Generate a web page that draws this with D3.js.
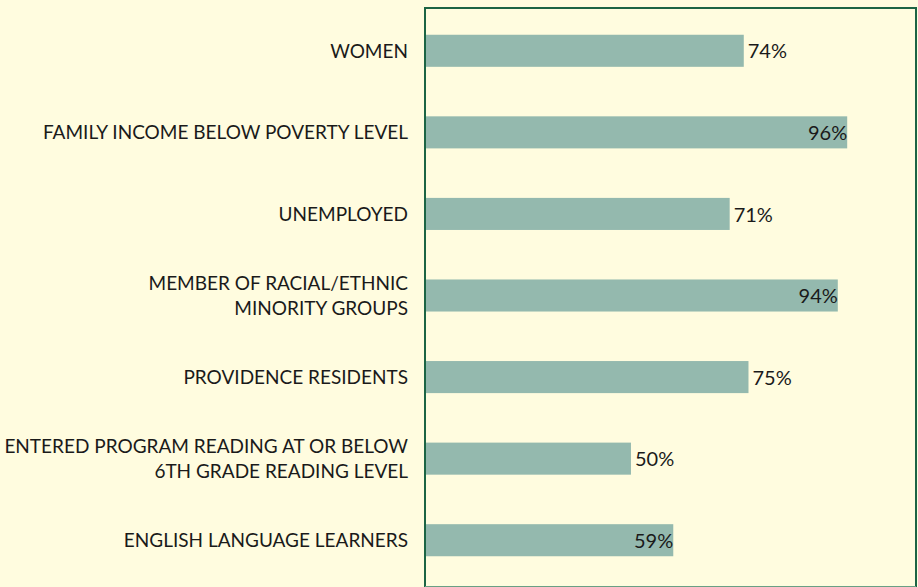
<!DOCTYPE html>
<html>
<head>
<meta charset="utf-8">
<script src="https://cdn.jsdelivr.net/npm/d3@7"></script>
<style>
  html, body { margin: 0; padding: 0; background: #fffcdf; }
  svg { display: block; }
  .cat-label, .val-label { font-family: Lato, "Open Sans", sans-serif; fill: #1a1a1a; }
</style>
</head>
<body>
<svg id="chart"></svg>
<script>
// chart data, top to bottom
const categories = [
  ["WOMEN"],
  ["FAMILY INCOME BELOW POVERTY LEVEL"],
  ["UNEMPLOYED"],
  ["MEMBER OF RACIAL/ETHNIC", "MINORITY GROUPS"],
  ["PROVIDENCE RESIDENTS"],
  ["ENTERED PROGRAM READING AT OR BELOW", "6TH GRADE READING LEVEL"],
  ["ENGLISH LANGUAGE LEARNERS"]
]
const percents = [74, 96, 71, 94, 75, 50, 59]
// these ones have their % written inside the bar in the original
const insideLabels = [96, 94, 59]

const width = 918
const height = 587
const plot = {left: 425, top: 8, right: 916, bottom: 587}

const svg = d3.select('#chart')
  .attr('width', width)
  .attr('height', height)

svg.append('rect')
  .attr('width', width)
  .attr('height', height)
  .attr('fill', '#fffcdf')

const keys = categories.map(d => d.join(' '))

// bars don't start at zero in the original, axis sits a bit above it
const xScale = d3.scaleLinear()
  .domain([6.4, 100])
  .range([plot.left + 1, plot.left + 441])

const yScale = d3.scaleBand()
  .domain(keys)
  .range([10, 581])
  .paddingInner(0.607)
  .paddingOuter(0.3035)

const rows = categories.map((lines, i) => ({key: keys[i], lines: lines, value: percents[i]}))

// bars
svg.selectAll('.bar')
  .data(rows)
  .join('rect')
    .attr('class', 'bar')
    .attr('x', xScale(6.4))
    .attr('y', d => yScale(d.key))
    .attr('width', d => xScale(d.value) - xScale(6.4))
    .attr('height', yScale.bandwidth())
    .attr('fill', '#94b9ae')

// category labels on the left
const lineGap = 25
svg.selectAll('.cat-label')
  .data(rows)
  .join('text')
    .attr('class', 'cat-label')
    .attr('text-anchor', 'end')
    .attr('font-size', 19)
    .attr('x', 408)
    .attr('y', d => yScale(d.key) + yScale.bandwidth() / 2)
    .each(function(d) {
      const t = d3.select(this)
      const first = -(d.lines.length - 1) * lineGap / 2
      d.lines.forEach((ln, j) => {
        t.append('tspan')
          .attr('x', 408)
          .attr('y', yScale(d.key) + yScale.bandwidth() / 2 + first + j * lineGap)
          .attr('dy', '0.36em')
          .text(ln)
      })
    })

// value labels
svg.selectAll('.val-label')
  .data(rows)
  .join('text')
    .attr('class', 'val-label')
    .attr('font-size', 20)
    .attr('text-anchor', d => insideLabels.includes(d.value) ? 'end' : 'start')
    .attr('x', d => insideLabels.includes(d.value) ? xScale(d.value) : xScale(d.value) + 4)
    .attr('y', d => yScale(d.key) + yScale.bandwidth() / 2)
    .attr('dy', '0.38em')
    .text(d => d.value + '%')

// frame round the plot area
const frameColor = '#1c6444'
svg.append('line')
  .attr('x1', plot.left).attr('x2', plot.left)
  .attr('y1', plot.top).attr('y2', plot.bottom)
  .attr('stroke', frameColor).attr('stroke-width', 2)
svg.append('line')
  .attr('x1', plot.left - 1).attr('x2', plot.right + 1)
  .attr('y1', plot.top).attr('y2', plot.top)
  .attr('stroke', frameColor).attr('stroke-width', 2)
svg.append('line')
  .attr('x1', plot.right).attr('x2', plot.right)
  .attr('y1', plot.top).attr('y2', plot.bottom)
  .attr('stroke', frameColor).attr('stroke-width', 2)
svg.append('line')
  .attr('x1', plot.left).attr('x2', plot.right)
  .attr('y1', 586.5).attr('y2', 586.5)
  .attr('stroke', '#6a9f84').attr('stroke-width', 1)
</script>
</body>
</html>
